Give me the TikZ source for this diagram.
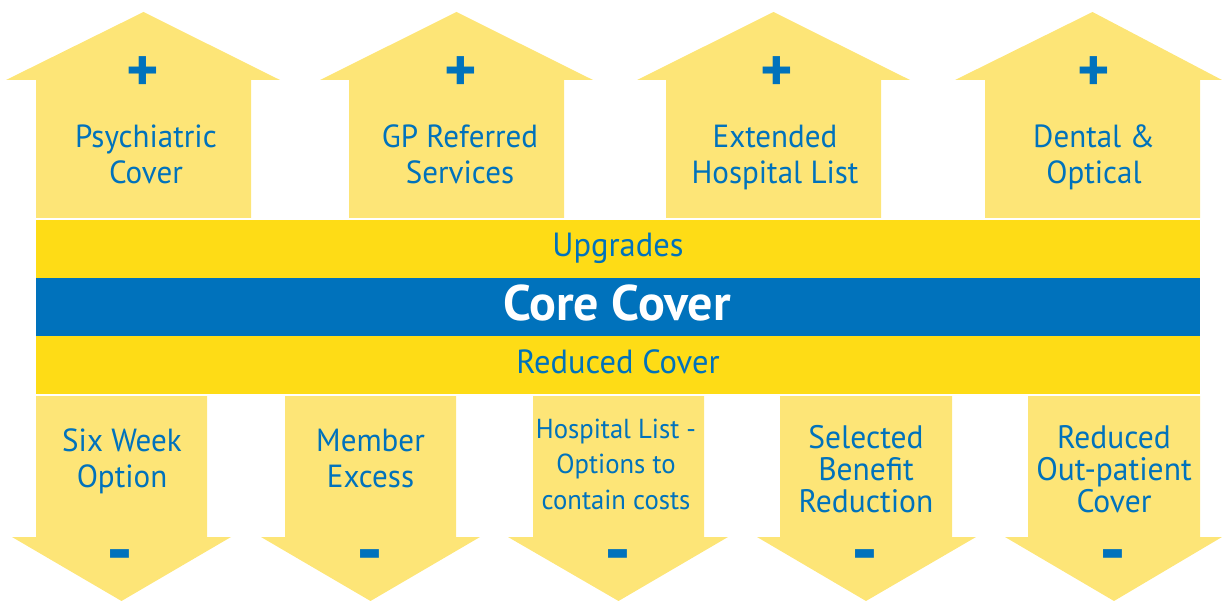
\documentclass[tikz,border=0pt]{standalone}
\usepackage{fontspec}
\setmainfont{PT Sans}[FakeStretch=0.97]
\newfontfamily\corefont{PT Sans}
\definecolor{armY}{HTML}{FDE577}
\definecolor{bandY}{HTML}{FEDC16}
\definecolor{coreB}{HTML}{0072BC}
\newcommand{\lnst}{\rule[-0.2em]{0pt}{0.75em}}
\newcommand{\uparr}[5]{\fill[arm] (#1,218) -- (#1,80) -- (#3,80) -- (#5,12) -- (#4,80) -- (#2,80) -- (#2,218) -- cycle;}
\newcommand{\dnarr}[5]{\fill[arm] (#1,396) -- (#1,537) -- (#3,537) -- (#5,601) -- (#4,537) -- (#2,537) -- (#2,396) -- cycle;}
\begin{document}
\begin{tikzpicture}[x=1pt,y=-1pt,
  arm/.style={fill=armY},
  band/.style={fill=bandY},
  lbl/.style={text=coreB, align=center, inner sep=0pt, anchor=north},
  big/.style={font=\fontsize{32}{36}\selectfont},
  mid/.style={font=\fontsize{32.5}{32}\selectfont},
  sml/.style={font=\fontsize{27.5}{35.5}\selectfont},
  bandtxt/.style={text=coreB, inner sep=0pt, anchor=base, font=\fontsize{33.5}{36}\selectfont},
  plussign/.style={text=coreB, inner sep=0pt, font=\corefont\bfseries\fontsize{62}{62}\selectfont},
  minussign/.style={text=coreB, inner sep=0pt, font=\corefont\bfseries\fontsize{75}{75}\selectfont}]
\useasboundingbox (0,0) rectangle (1222,601);
% up arrows
\uparr{36}{251}{6}{280}{143.5}
\uparr{349}{564}{320}{593}{456.5}
\uparr{666}{881}{637}{910}{773.5}
\uparr{985}{1200}{955}{1222}{1092.5}
% down arrows
\dnarr{36}{207}{12}{231}{121.5}
\dnarr{285}{456}{261}{480}{370.5}
\dnarr{533}{704}{508}{728}{618.5}
\dnarr{780}{952}{757}{976}{866}
\dnarr{1028}{1200}{1005}{1222}{1114}
% bands
\fill[band] (36,220) rectangle (1200,278);
\fill[coreB] (36,278) rectangle (1200,336);
\fill[band] (36,336) rectangle (1200,394);
% band labels
\node[bandtxt] (upg) at (618,257) {Upgrades};
\node[bandtxt, text=white, font=\corefont\bfseries\fontsize{50}{54}\selectfont] (core) at (617,320) {Core Cover};
\node[bandtxt] (red) at (618,373) {Reduced Cover};
% plus signs
\node[plussign] (p1) at (143,74.5) {+};
\node[plussign] (p2) at (461,74.5) {+};
\node[plussign] (p3) at (777,74.5) {+};
\node[plussign] (p4) at (1094,74.5) {+};
% minus signs
\node[minussign] (m1) at (119.5,562.5) {-};
\node[minussign] (m2) at (369.5,562.5) {-};
\node[minussign] (m3) at (617.5,562.5) {-};
\node[minussign] (m4) at (864.5,562.5) {-};
\node[minussign] (m5) at (1112.5,562.5) {-};
% top labels
\node[lbl,big] (t1) at (146,125) {\lnst Psychiatric\\\lnst Cover};
\node[lbl,big] (t2) at (460,125) {\lnst GP Referred\\\lnst Services};
\node[lbl,big] (t3) at (775,125) {\lnst Extended\\\lnst Hospital List};
\node[lbl,big] (t4) at (1094,125) {\lnst Dental \&\\\lnst Optical};
% bottom labels
\node[lbl,big] (b1) at (122,429) {\lnst Six Week\\\lnst Option};
\node[lbl,big] (b2) at (370.5,429) {\lnst Member\\\lnst Excess};
\node[lbl,sml] (b3) at (616,418.4) {\lnst Hospital List -\\\lnst Options to\\\lnst contain costs};
\node[lbl,mid] (b4) at (866,425.6) {\lnst Selected\\\lnst Benefit\\\lnst Reduction};
\node[lbl,mid] (b5) at (1114,425.6) {\lnst Reduced\\\lnst Out-patient\\\lnst Cover};
\end{tikzpicture}
\end{document}
